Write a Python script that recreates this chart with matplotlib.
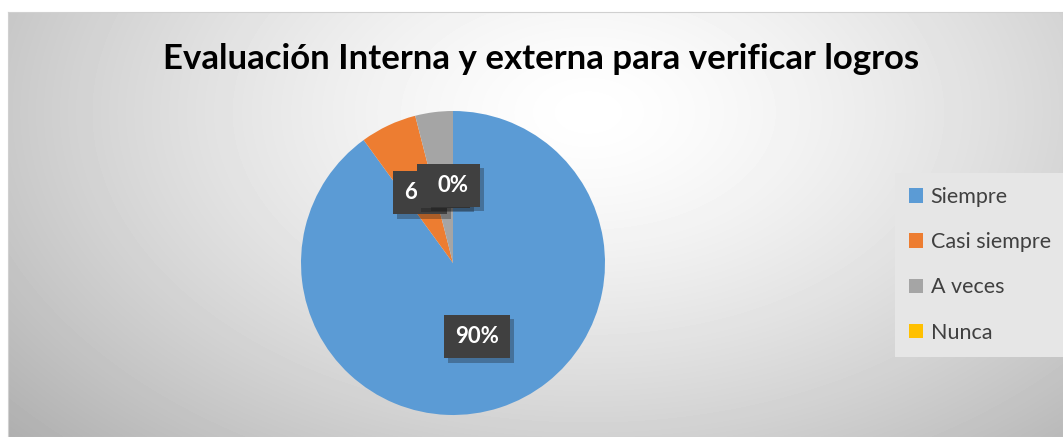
import numpy as np
import matplotlib.pyplot as plt
import matplotlib.patheffects as pe
from matplotlib.patches import Patch

# data
categories = ["Siempre", "Casi siempre", "A veces", "Nunca"]
percentages = [90, 6, 4, 0]
colors = ["#5B9BD5", "#ED7D31", "#A5A5A5", "#FFC000"]
title = "Evaluación Interna y externa para verificar logros"

W, H = 1063, 437
fig = plt.figure(figsize=(W / 100, H / 100), dpi=100)
fig.patch.set_facecolor("white")

# chart area with a radial grey gradient
bg = fig.add_axes([8 / W, 0, 1 - 8 / W, (H - 12) / H])
yy, xx = np.mgrid[0:425, 0:1055]
cx, cy = 580, 100
d = np.sqrt(((xx - cx) / 640.0) ** 2 + ((yy - cy) / 400.0) ** 2)
g = np.clip(1.0 - 0.24 * d ** 1.4, 0, 1)
bg.imshow(g, cmap="gray", vmin=0, vmax=1, aspect="auto")
bg.set_xticks([])
bg.set_yticks([])
for s in bg.spines.values():
    s.set_color("#d0d0d0")
    s.set_linewidth(0.8)

# title
fig.text(541 / W, 1 - 59 / H, title, ha="center", va="center",
         fontsize=25, fontweight="bold", family="Lato", color="black")

# pie
R = 152
pcx, pcy = 453, 263
ax = fig.add_axes([(pcx - R) / W, (H - pcy - R) / H, 2 * R / W, 2 * R / H])
ax.set_facecolor("none")
wedges, texts, autotexts = ax.pie(
    percentages, colors=colors, startangle=90, counterclock=False,
    autopct=lambda p: f"{p:.0f}%", pctdistance=0.51, radius=1,
    textprops=dict(color="white", fontsize=16, fontweight="bold", family="Lato"))
ax.set_xlim(-1, 1)
ax.set_ylim(-1, 1)
ax.set_aspect("equal")
for t in autotexts:
    t.set_bbox(dict(boxstyle="square,pad=0.5", facecolor="#404040", edgecolor="none"))
    t.get_bbox_patch().set_path_effects(
        [pe.SimplePatchShadow(offset=(3, -3), alpha=0.3), pe.Normal()])

# legend
handles = [Patch(facecolor=c, edgecolor="none") for c in colors]
leg = fig.legend(handles, categories, loc="upper left",
                 bbox_to_anchor=(895 / W, 1 - 173 / H),
                 frameon=True, fancybox=False, framealpha=1,
                 prop=dict(family="Lato", size=15.5),
                 labelspacing=1.17, handlelength=0.65, handleheight=0.65,
                 handletextpad=0.35, borderpad=0.65, borderaxespad=0)
leg.get_frame().set_facecolor("#e6e6e6")
leg.get_frame().set_edgecolor("none")
for t in leg.get_texts():
    t.set_color("#404040")

fig.savefig("out.png", dpi=100)
